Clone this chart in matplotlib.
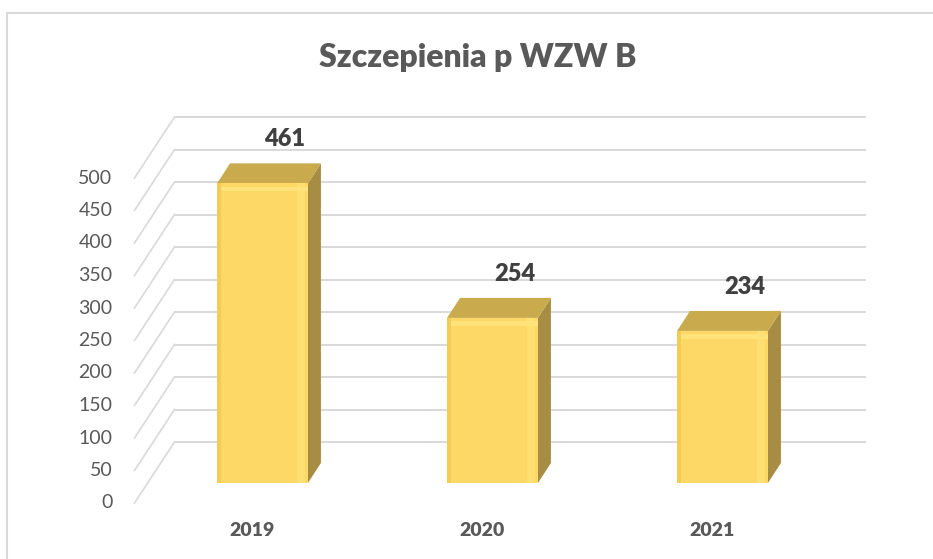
"""
Szczepienia p WZW B - 3D-style column chart (Excel look)
"""
import matplotlib.pyplot as plt
import matplotlib.lines as mlines
from matplotlib.patches import Polygon

# dane
years = ['2019', '2020', '2021']
values = [461, 254, 234]
y_ticks = [0, 50, 100, 150, 200, 250, 300, 350, 400, 450, 500]
title = 'Szczepienia p WZW B'

plt.rcParams['font.family'] = ['Lato', 'DejaVu Sans']

W, H = 933, 559
fig = plt.figure(figsize=(W / 100, H / 100), dpi=100)
# axes = bar plane (front faces of the columns)
ax = fig.add_axes([147.5 / W, 76 / H, 690 / W, 325 / H])
ax.set_xlim(-0.5, 2.5)
ax.set_ylim(0, 500)
ax.axis('off')

# pixels per data unit
sx = ax.bbox.width / 3.0
sy = ax.bbox.height / 500.0

# depth offsets in pixels
back_dx, back_dy = 27, 41      # back wall relative to bar plane
front_dx, front_dy = -13, -20  # front edge relative to bar plane
bar_dx, bar_dy = 13, 20        # column depth

grid_col = '#d9d9d9'
text_col = '#595959'

# gridlines on back wall + diagonals on the side wall
for v in y_ticks:
    ax.plot([-0.5 + back_dx / sx, 2.5 + back_dx / sx], [v + back_dy / sy] * 2,
            color=grid_col, lw=1.4, zorder=1, clip_on=False)
    ax.plot([-0.5 + front_dx / sx, -0.5 + back_dx / sx],
            [v + front_dy / sy, v + back_dy / sy],
            color=grid_col, lw=1.2, zorder=1, clip_on=False)
    ax.text(-0.5 + (front_dx - 22) / sx, v + front_dy / sy, str(v),
            ha='right', va='center', fontsize=14, color=text_col)

# columns
w = 0.395
ddx, ddy = bar_dx / sx, bar_dy / sy
for i, v in enumerate(values):
    left, right = i - w / 2, i + w / 2
    side = Polygon([(right, 0), (right, v), (right + ddx, v + ddy), (right + ddx, ddy)],
                   closed=True, facecolor='#a78c44', edgecolor='none', zorder=3,
                   clip_on=False)
    top = Polygon([(left, v), (right, v), (right + ddx, v + ddy), (left + ddx, v + ddy)],
                  closed=True, facecolor='#c9ab4e', edgecolor='none', zorder=3,
                  clip_on=False)
    ax.add_patch(side)
    ax.add_patch(top)
ax.bar(range(len(values)), values, width=w, color='#fdd866', zorder=4, clip_on=False)
# bevel highlights
ax.bar([i + w / 2 - 0.03 for i in range(len(values))], values, width=0.035,
       color='#ffdf72', zorder=5, clip_on=False)
ax.bar(range(len(values)), [7] * len(values), bottom=[v - 12 for v in values],
       width=w, color='#ffe27a', zorder=5, clip_on=False)
ax.bar([i - w / 2 + 0.008 for i in range(len(values))], values, width=0.016,
       color='#f3cc55', zorder=5, clip_on=False)

# data labels
for i, v in enumerate(values):
    ax.text(i + 22 / sx, v + (bar_dy + 24) / sy, str(v), ha='center', va='center',
            fontsize=17, fontweight='heavy', color='#404040')

# category labels
for i, lab in enumerate(years):
    ax.text(i - 10 / sx, -47 / sy, lab, ha='center', va='center',
            fontsize=14, fontweight='heavy', color=text_col)

fig.text(478 / W, 1 - 58 / H, title, ha='center', va='center',
         fontsize=23, fontweight='heavy', color=text_col)

# chart frame (left and top only)
fig.add_artist(mlines.Line2D([7.5 / W, 7.5 / W], [0, 1 - 12.5 / H],
                             color=grid_col, lw=1.5, transform=fig.transFigure))
fig.add_artist(mlines.Line2D([7.5 / W, 1], [1 - 12.5 / H, 1 - 12.5 / H],
                             color=grid_col, lw=1.5, transform=fig.transFigure))

fig.savefig('out.png', dpi=100)
